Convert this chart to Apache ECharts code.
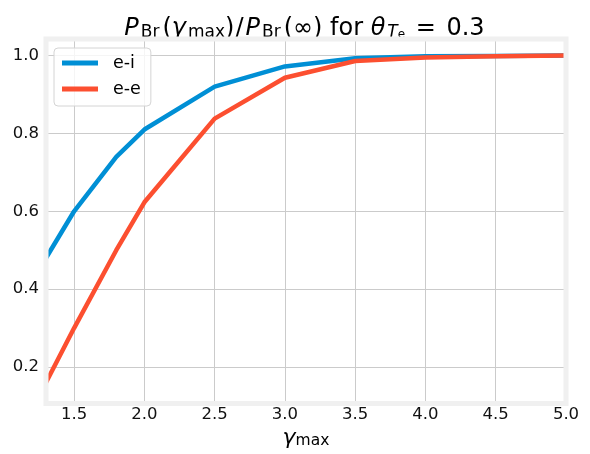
<!DOCTYPE html>
<html>
<head>
<meta charset="utf-8">
<script src="https://cdn.jsdelivr.net/npm/echarts@6/dist/echarts.min.js"></script>
<style>html,body{margin:0;padding:0;background:#fff;}#c{width:590px;height:454px;}</style>
</head>
<body>
<div id="c"></div>
<script>
const gammaMax = [1.3, 1.5, 1.8, 2.0, 2.5, 3.0, 3.5, 4.0, 4.5, 5.0];
const eiValues = [0.48, 0.60, 0.74, 0.81, 0.92, 0.972, 0.993, 0.998, 0.999, 1.0];
const eeValues = [0.16, 0.30, 0.50, 0.623, 0.838, 0.943, 0.986, 0.995, 0.998, 1.0];
const xTicks = [1.5, 2.0, 2.5, 3.0, 3.5, 4.0, 4.5, 5.0];
const yTicks = [0.2, 0.4, 0.6, 0.8, 1.0];
const seriesNames = ['e-i', 'e-e'];

const FONT = 'DejaVu Sans';
const G = {left: 46, right: 24, top: 39, bottom: 50.4};
const chart = echarts.init(document.getElementById('c'));

const base = {fontFamily: FONT, fontWeight: 'normal', color: '#000', verticalAlign: 'bottom'};
const titleRich = {
  n: Object.assign({}, base, {fontSize: 24, lineHeight: 40}),
  i: Object.assign({}, base, {fontSize: 24, lineHeight: 40, fontStyle: 'italic'}),
  s: Object.assign({}, base, {fontSize: 17, lineHeight: 27.2}),
  si: Object.assign({}, base, {fontSize: 17, lineHeight: 25.5, fontStyle: 'italic'}),
  ss: Object.assign({}, base, {fontSize: 12, lineHeight: 4.5}),
  k1: Object.assign({}, base, {fontSize: 4, lineHeight: 4, width: 1}),
  k2: Object.assign({}, base, {fontSize: 4, lineHeight: 4, width: 2}),
  k3: Object.assign({}, base, {fontSize: 4, lineHeight: 4, width: 3})
};
const nameRich = {
  i: Object.assign({}, base, {fontSize: 22, lineHeight: 26, fontStyle: 'italic'}),
  s: Object.assign({}, base, {fontSize: 15.5, lineHeight: 13.6})
};

const titleText =
  '{i|P}{k2| }{s|Br}{k3| }{n|(}{i|γ}{k2| }{s|max}{n|)}{k1| }{n|/}{k2| }{i|P}{k2| }{s|Br}{k3| }' +
  '{n|(∞) for }{i|θ}{k2| }{si|T}{ss|e}{k3| }{n| = }{k3| }{n|0.3}';

chart.setOption({
  backgroundColor: '#ffffff',
  animation: false,
  title: {
    text: titleText,
    left: 304.5, top: 0.7, padding: 0, textAlign: 'center',
    textStyle: {rich: titleRich, fontFamily: FONT, fontSize: 24, fontWeight: 'normal'}
  },
  legend: {
    data: seriesNames,
    orient: 'vertical',
    left: 54, top: 48,
    padding: [6, 10, 8, 8],
    itemGap: 8,
    itemWidth: 36, itemHeight: 5,
    icon: 'rect',
    backgroundColor: 'rgba(255,255,255,0.8)',
    borderColor: '#d4d4d4', borderWidth: 1, borderRadius: 4,
    textStyle: {fontFamily: FONT, fontSize: 17.5, lineHeight: 18, color: '#000', padding: [0, 0, 0, 10]}
  },
  grid: Object.assign({}, G, {containLabel: false}),
  xAxis: {
    type: 'value', min: 1.3, max: 5.0,
    name: '{i|γ}{s|max}', nameLocation: 'middle', nameGap: 20, nameMoveOverlap: false,
    nameTextStyle: {rich: nameRich},
    axisLine: {show: false}, axisTick: {show: false, customValues: xTicks},
    axisLabel: {customValues: xTicks, margin: 3, fontFamily: FONT, fontSize: 16.5, color: '#111',
      formatter: v => v.toFixed(1)},
    splitLine: {show: true, lineStyle: {color: '#cbcbcb', width: 1}}
  },
  yAxis: {
    type: 'value', min: 0.1075, max: 1.0425,
    axisLine: {show: false}, axisTick: {show: false, customValues: yTicks},
    axisLabel: {customValues: yTicks, margin: 7, fontFamily: FONT, fontSize: 16.5, color: '#111',
      formatter: v => v.toFixed(1)},
    splitLine: {show: true, lineStyle: {color: '#cbcbcb', width: 1}}
  },
  series: [
    {name: seriesNames[0], type: 'line', showSymbol: false, color: '#008fd5',
     lineStyle: {width: 4.5, color: '#008fd5'}, data: gammaMax.map((x, k) => [x, eiValues[k]])},
    {name: seriesNames[1], type: 'line', showSymbol: false, color: '#fc4f30',
     lineStyle: {width: 4.5, color: '#fc4f30'}, data: gammaMax.map((x, k) => [x, eeValues[k]])}
  ],
  graphic: [{
    type: 'rect', z: 100, silent: true,
    shape: {x: G.left, y: G.top, width: 590 - G.left - G.right, height: 454 - G.top - G.bottom},
    style: {fill: 'none', stroke: '#f0f0f0', lineWidth: 5}
  }]
});
</script>
</body>
</html>
